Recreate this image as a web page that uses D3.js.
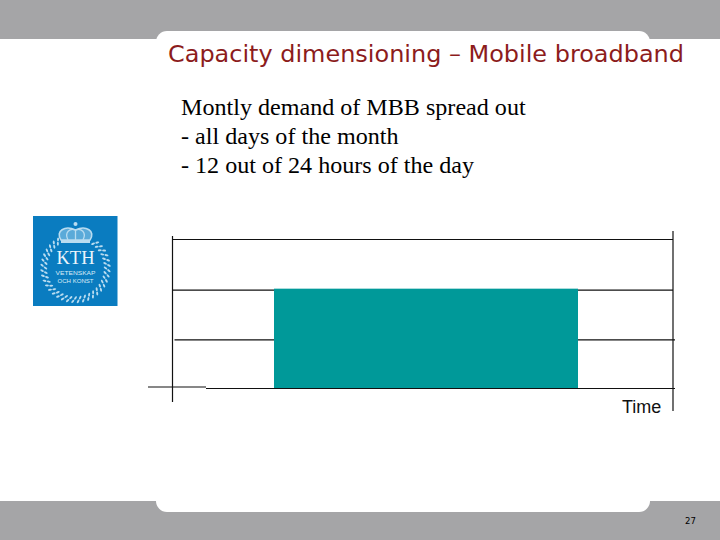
<!DOCTYPE html>
<html><head><meta charset="utf-8">
<script src="https://cdn.jsdelivr.net/npm/d3@7/dist/d3.min.js"></script>
<style>html,body{margin:0;padding:0;background:#fff}svg{display:block}</style>
</head><body><svg id="c" width="720" height="540"></svg>
<script>
const titleText = "Capacity dimensioning \u2013 Mobile broadband";
const bodyLines = ["Montly demand of MBB spread out", "- all days of the month", "- 12 out of 24 hours of the day"];
const demandStart = [20.2];
const demandEnd = [81];
const demandLevel = [2];
const gridLevels = [3, 2, 1, 0];
const axisLabel = "Time";
const pageNumber = "27";

const svg = d3.select("#c");
const x = d3.scaleLinear().domain([0, 100]).range([173, 673]);
const y = d3.scaleLinear().domain([0, 3]).range([388, 239]);

// slide frame
const gray = "#a5a5a7";
svg.append("rect").attr("width", 720).attr("height", 39).attr("fill", gray);
svg.append("rect").attr("y", 501).attr("width", 720).attr("height", 39).attr("fill", gray);
svg.append("rect").attr("x", 156).attr("y", 31).attr("width", 494).attr("height", 481).attr("rx", 11).attr("fill", "#fff");

// title and body
svg.append("text").attr("x", 168).attr("y", 62).attr("font-family", "DejaVu Sans").attr("font-size", 22.5)
  .attr("fill", "#8c1c1c").attr("textLength", 516).attr("lengthAdjust", "spacingAndGlyphs").text(titleText);
svg.selectAll("text.b").data(bodyLines).join("text").attr("class", "b")
  .attr("x", 181).attr("y", (d, i) => 114.5 + i * 29.2)
  .attr("font-family", "Liberation Serif").attr("font-size", 24.1).attr("fill", "#000").text(d => d);

// logo
const logo = svg.append("g");
const leaf = "#b9dcf0";
logo.append("rect").attr("x", 33).attr("y", 216).attr("width", 84.5).attr("height", 90).attr("fill", "#0a7cc0");
const wreath = logo.append("g").attr("fill", leaf);
d3.range(0, 40).forEach(i => {
  const a = (i / 40) * 2 * Math.PI;
  if (Math.abs(Math.sin(a / 2)) < 0.24) return;
  [30, 33.5].forEach((r, k) => {
    const aa = a + (k ? 0.08 : 0);
    const cx = 75.5 + r * Math.sin(aa), cy = 268 - r * Math.cos(aa);
    wreath.append("ellipse").attr("cx", cx).attr("cy", cy).attr("rx", 1).attr("ry", 2)
      .attr("transform", `rotate(${aa * 180 / Math.PI + 35} ${cx} ${cy})`);
  });
});
logo.append("path").attr("fill", "#5aaad9").attr("stroke", leaf).attr("stroke-width", 1.6)
  .attr("d", "M61,240 C55,231 65,225 75.5,230 C86,225 96,231 90,240 Z");
logo.append("path").attr("fill", "none").attr("stroke", leaf).attr("stroke-width", 1.3)
  .attr("d", "M68,240 C64,232 70,228 75.5,230 C81,228 87,232 83,240 M75.5,230 V240");
logo.append("rect").attr("x", 61).attr("y", 240).attr("width", 29).attr("height", 3).attr("fill", leaf);
logo.append("circle").attr("cx", 75.5).attr("cy", 224).attr("r", 2).attr("fill", leaf);
logo.append("text").attr("x", 75.5).attr("y", 264).attr("text-anchor", "middle").attr("font-family", "Liberation Serif")
  .attr("font-size", 19).attr("fill", "#eaf5fb").attr("textLength", 38).attr("lengthAdjust", "spacingAndGlyphs").text("KTH");
logo.append("text").attr("x", 75.5).attr("y", 274.5).attr("text-anchor", "middle").attr("font-family", "Liberation Sans")
  .attr("font-size", 6).attr("fill", "#dcedf7").attr("textLength", 40).attr("lengthAdjust", "spacingAndGlyphs").text("VETENSKAP");
logo.append("text").attr("x", 75.5).attr("y", 283).attr("text-anchor", "middle").attr("font-family", "Liberation Sans")
  .attr("font-size", 5.6).attr("fill", "#dcedf7").attr("textLength", 36).attr("lengthAdjust", "spacingAndGlyphs").text("OCH KONST");

// chart
const ink = "#111";
const xStart = { 3: 173, 2: 173, 1: 174.5, 0: 206 };
const yAdj = { 3: 0.5, 2: 1.5, 1: 1.5, 0: 0.5 };
svg.selectAll("line.grid").data(gridLevels).join("line").attr("class", "grid")
  .attr("x1", d => xStart[d]).attr("x2", d => d === 0 || d === 1 ? 675 : 673)
  .attr("y1", d => y(d) + yAdj[d]).attr("y2", d => y(d) + yAdj[d])
  .attr("stroke", ink).attr("stroke-width", 1.2);
svg.selectAll("rect.bar").data(demandLevel).join("rect").attr("class", "bar")
  .attr("x", (d, i) => x(demandStart[i])).attr("width", (d, i) => x(demandEnd[i]) - x(demandStart[i]))
  .attr("y", d => y(d)).attr("height", d => y(0) - y(d)).attr("fill", "#009999");
svg.selectAll("line.grid").filter(d => d === 0).raise();
svg.append("line").attr("x1", 148).attr("x2", 206).attr("y1", 387).attr("y2", 387).attr("stroke", ink).attr("stroke-width", 1.2);
svg.append("line").attr("x1", 172.5).attr("x2", 172.5).attr("y1", 236).attr("y2", 402).attr("stroke", ink).attr("stroke-width", 1.2);
svg.append("line").attr("x1", 673).attr("x2", 673).attr("y1", 231).attr("y2", 411).attr("stroke", ink).attr("stroke-width", 1.2);

svg.append("text").attr("x", 622).attr("y", 412.5).attr("font-family", "Liberation Sans").attr("font-size", 18)
  .attr("fill", "#111").text(axisLabel);
svg.append("text").attr("x", 690.5).attr("y", 524).attr("text-anchor", "middle").attr("font-family", "DejaVu Sans")
  .attr("font-size", 8.5).attr("fill", "#000").text(pageNumber);
</script></body></html>
